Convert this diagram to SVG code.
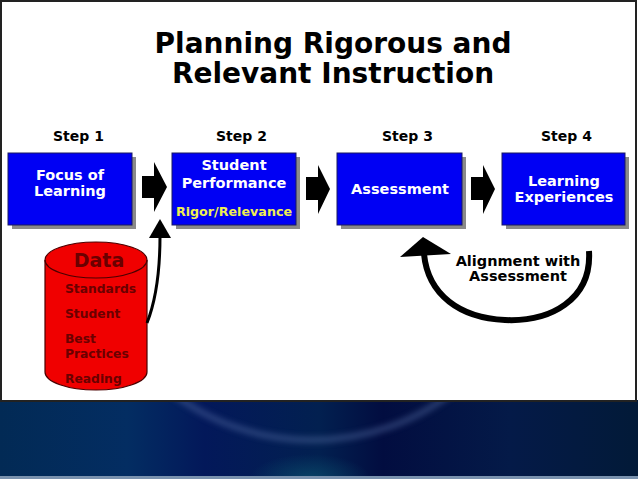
<svg xmlns="http://www.w3.org/2000/svg" width="638" height="479" viewBox="0 0 638 479">
<style>
text{font-family:"DejaVu Sans",Verdana,sans-serif;font-weight:bold}
.title{font-size:28px;fill:#000;text-anchor:middle}
.step{font-size:14px;fill:#000}
.box{fill:#0000f4;stroke:#1a1a60;stroke-width:1}
.shadow{fill:#8a8a8a}
.bt{font-size:14.5px;fill:#fff;text-anchor:middle}
.dt{font-size:12.3px;fill:#6a0000}
.blk{fill:#000}
.al{font-size:14.5px;fill:#000;text-anchor:middle}
</style>
<defs>
<linearGradient id="bg" x1="0" y1="0" x2="1" y2="0">
<stop offset="0" stop-color="#022a55"/>
<stop offset="0.2" stop-color="#032d62"/>
<stop offset="0.32" stop-color="#03185a"/>
<stop offset="0.5" stop-color="#022050"/>
<stop offset="0.6" stop-color="#020d40"/>
<stop offset="0.8" stop-color="#041a48"/>
<stop offset="1" stop-color="#021a38"/>
</linearGradient>
<radialGradient id="glow" cx="0.5" cy="1" r="0.5">
<stop offset="0" stop-color="#0a4a6a" stop-opacity="0.8"/>
<stop offset="1" stop-color="#0a4a6a" stop-opacity="0"/>
</radialGradient>
<filter id="blur" x="-20%" y="-20%" width="140%" height="140%"><feGaussianBlur stdDeviation="3"/></filter>
</defs>
<rect x="0" y="400" width="638" height="79" fill="url(#bg)"/>
<rect x="250" y="430" width="120" height="48" fill="url(#glow)"/>
<ellipse cx="312" cy="250" rx="212" ry="190" fill="none" stroke="#5a72a8" stroke-width="5" opacity="0.55" filter="url(#blur)"/>
<rect x="0" y="476" width="638" height="3" fill="#7a92ae"/>
<rect x="1" y="1" width="635" height="400" fill="#fff" stroke="#222" stroke-width="2"/>

<g id="title">
<text class="title" x="333" y="53">Planning Rigorous and</text>
<text class="title" x="333" y="83">Relevant Instruction</text>
</g>

<g id="steps">
<text class="step" x="53" y="141">Step 1</text>
<text class="step" x="216" y="141">Step 2</text>
<text class="step" x="382" y="141">Step 3</text>
<text class="step" x="541" y="141">Step 4</text>
</g>

<g id="step1">
<rect class="shadow" x="12" y="157" width="124" height="72"/>
<rect class="box" x="8" y="153" width="124" height="72"/>
<text class="bt" x="70" y="180">Focus of</text>
<text class="bt" x="70" y="196">Learning</text>
</g>
<g id="step2">
<rect class="shadow" x="176" y="157" width="124" height="72"/>
<rect class="box" x="172" y="153" width="124" height="72"/>
<text class="bt" x="234" y="170">Student</text>
<text class="bt" x="234" y="188">Performance</text>
<text x="234" y="216" style="font-size:12.7px;fill:#f0f050;text-anchor:middle">Rigor/Relevance</text>
</g>
<g id="step3">
<rect class="shadow" x="341" y="157" width="125" height="72"/>
<rect class="box" x="337" y="153" width="125" height="72"/>
<text class="bt" x="400" y="194">Assessment</text>
</g>
<g id="step4">
<rect class="shadow" x="506" y="157" width="123" height="72"/>
<rect class="box" x="502" y="153" width="123" height="72"/>
<text class="bt" x="564" y="186">Learning</text>
<text class="bt" x="564" y="202">Experiences</text>
</g>

<g id="data">
<path d="M45,260 V372 A51,18 0 0 0 147,372 V260 A51,18 0 0 0 45,260 Z" fill="#f00000" stroke="#4a0000" stroke-width="1.2"/>
<path d="M45,260 A51,18 0 0 0 147,260" fill="none" stroke="#4a0000" stroke-width="1.2"/>
<text x="99" y="267" style="font-size:19px;fill:#6a0000;text-anchor:middle">Data</text>
<text class="dt" x="65" y="293">Standards</text>
<text class="dt" x="65" y="318">Student</text>
<text class="dt" x="65" y="343">Best</text>
<text class="dt" x="65" y="358">Practices</text>
<text class="dt" x="65" y="383">Reading</text>
</g>

<g id="connectors">
<path class="blk" d="M142,176 H154 V162 L167,187 L154,212 V198 H142 Z"/>
<path class="blk" d="M306,177 H318 V165 L330,189 L318,214 V200 H306 Z"/>
<path class="blk" d="M471,177 H483 V165 L495,189 L483,214 V200 H471 Z"/>
<path d="M147,323 C156,300 160,270 160,236" fill="none" stroke="#000" stroke-width="3"/>
<path class="blk" d="M160,219 L171,238 L149,238 Z"/>
<path d="M589,251 C592,300 550,322 505,320 C460,318 428,295 424,254" fill="none" stroke="#000" stroke-width="6"/>
<path class="blk" d="M423,237 L451,254 L400,257 Z"/>
<text class="al" x="518" y="266">Alignment with</text>
<text class="al" x="518" y="281">Assessment</text>
</g>
</svg>
